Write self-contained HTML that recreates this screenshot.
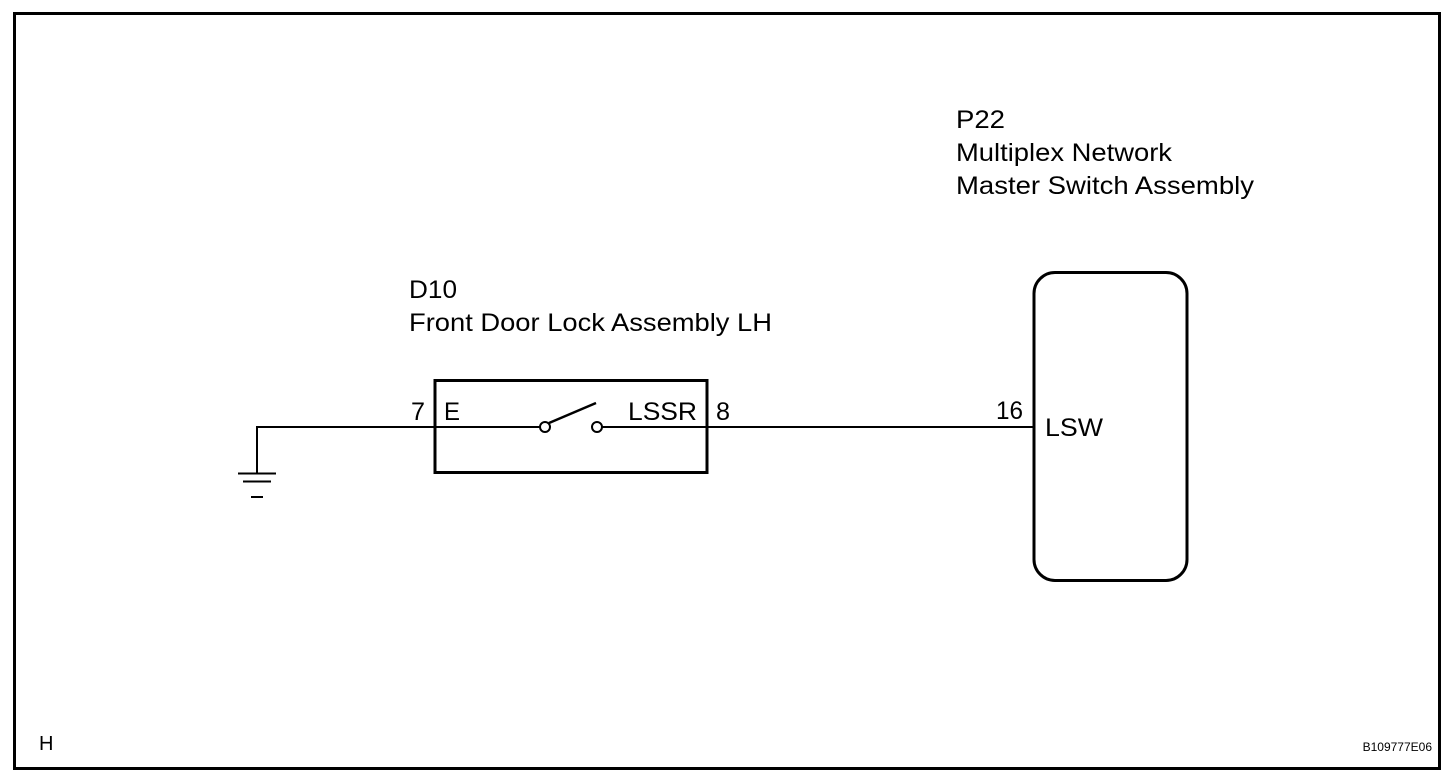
<!DOCTYPE html>
<html><head><meta charset="utf-8"><style>
html,body{margin:0;padding:0;background:#fff;}
svg{display:block;}
text{font-family:"Liberation Sans",Arial,sans-serif;fill:#000;}
</style></head><body>
<svg width="1456" height="782" viewBox="0 0 1456 782" xmlns="http://www.w3.org/2000/svg">
<rect x="14.5" y="13.5" width="1425" height="755" fill="none" stroke="#000" stroke-width="3"/>
<polyline points="257,474 257,427 434,427" fill="none" stroke="#000" stroke-width="2"/>
<line x1="238" y1="473.5" x2="276" y2="473.5" stroke="#000" stroke-width="2"/>
<line x1="243" y1="481.5" x2="271" y2="481.5" stroke="#000" stroke-width="2"/>
<line x1="251" y1="497" x2="263" y2="497" stroke="#000" stroke-width="2"/>
<rect x="435" y="380.5" width="272" height="92" fill="none" stroke="#000" stroke-width="3"/>
<line x1="434" y1="427" x2="540" y2="427" stroke="#000" stroke-width="2"/>
<circle cx="545" cy="427" r="5" fill="#fff" stroke="#000" stroke-width="2"/>
<circle cx="597" cy="427" r="5" fill="#fff" stroke="#000" stroke-width="2"/>
<line x1="549" y1="423" x2="596" y2="403" stroke="#000" stroke-width="2.5"/>
<line x1="602" y1="427" x2="1033" y2="427" stroke="#000" stroke-width="2"/>
<rect x="1034" y="272.5" width="153" height="308" rx="21" ry="21" fill="none" stroke="#000" stroke-width="3"/>
<g font-size="25" lengthAdjust="spacingAndGlyphs">
<text x="409" y="298" textLength="48" lengthAdjust="spacingAndGlyphs">D10</text>
<text x="409" y="331" textLength="363" lengthAdjust="spacingAndGlyphs">Front Door Lock Assembly LH</text>
<text x="956" y="128" textLength="49" lengthAdjust="spacingAndGlyphs">P22</text>
<text x="956" y="161" textLength="216" lengthAdjust="spacingAndGlyphs">Multiplex Network</text>
<text x="956" y="194" textLength="298" lengthAdjust="spacingAndGlyphs">Master Switch Assembly</text>
<text x="411" y="420" textLength="14" lengthAdjust="spacingAndGlyphs">7</text>
<text x="444" y="420" textLength="16" lengthAdjust="spacingAndGlyphs">E</text>
<text x="628" y="420" textLength="69" lengthAdjust="spacingAndGlyphs">LSSR</text>
<text x="716" y="420" textLength="14" lengthAdjust="spacingAndGlyphs">8</text>
<text x="996" y="419" textLength="27" lengthAdjust="spacingAndGlyphs">16</text>
<text x="1045" y="436" textLength="58" lengthAdjust="spacingAndGlyphs">LSW</text>
</g>
<text x="39" y="750" font-size="20">H</text>
<text x="1432" y="751" font-size="12" text-anchor="end">B109777E06</text>
</svg>
</body></html>
